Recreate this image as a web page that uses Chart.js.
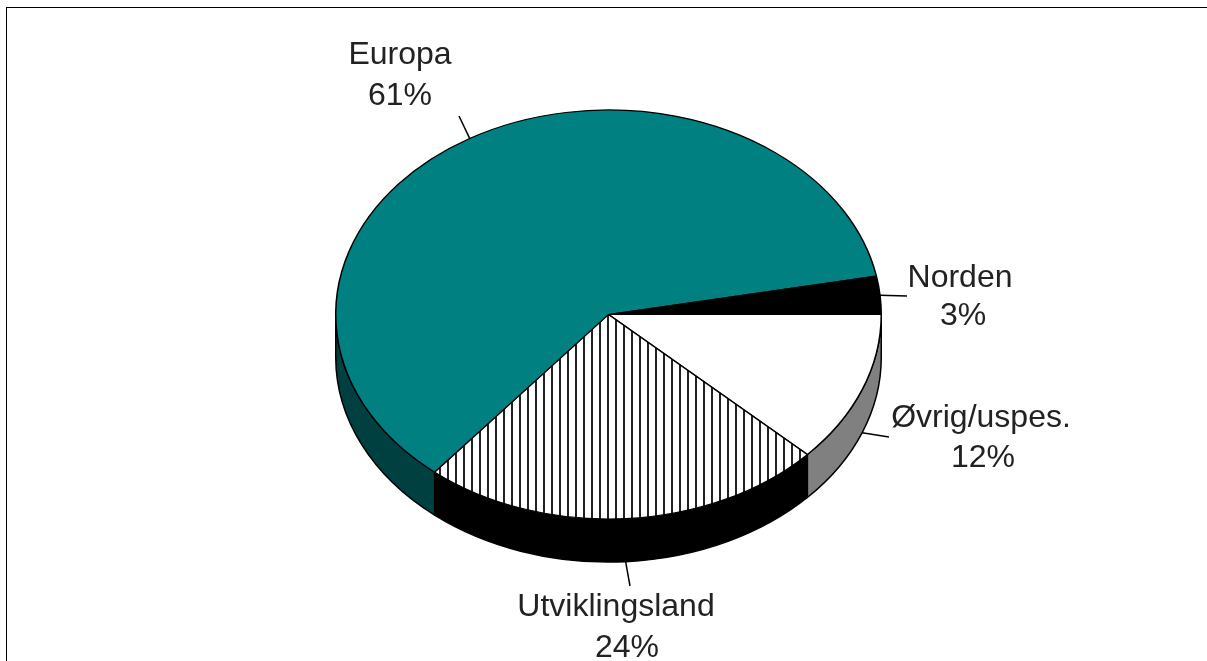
<!DOCTYPE html>
<html>
<head>
<meta charset="utf-8">
<script src="https://cdn.jsdelivr.net/npm/chart.js@4"></script>
<style>
  html, body { margin: 0; padding: 0; background: #fff; overflow: hidden; }
  #frame { position: absolute; left: 6px; top: 7px; width: 1201px; height: 654px; border-left: 1px solid #000; border-top: 1px solid #000; box-sizing: border-box; }
  canvas { position: absolute; left: 0; top: 0; }
</style>
</head>
<body>
<div id="frame"></div>
<canvas id="pieChart" width="1207" height="661"></canvas>
<script>
// clockwise from the east edge of the pie
const categories = ['Øvrig/uspes.', 'Utviklingsland', 'Europa', 'Norden'];
const shares = [12, 24, 61, 3];
const wallColors = ['#808080', '#000000', '#004040', '#000000'];

// where the text sits: name x, name baseline, percent x, percent baseline
const labelSpots = [[981, 427, 983, 467], [616, 616, 627, 657], [400, 64, 400, 105], [960, 287, 963, 325]];
// outer end of each leader line
const leaderEnds = [[889, 437], [630, 586], [459, 116], [907, 296]];

const squash = 0.75;
const depth = 43;
const faceY = 314.5;

const makeHatch = () => {
    const c = document.createElement('canvas');
    c.width = 8;
    c.height = 8;
    const g = c.getContext('2d');
    g.fillStyle = '#fff';
    g.fillRect(0, 0, 8, 8);
    g.fillStyle = '#222';
    g.fillRect(0, 0, 1, 8);
    g.fillRect(7, 0, 1, 8);
    return g.createPattern(c, 'repeat');
};

const tilt3d = {
    id: 'tilt3d',
    beforeDatasetsDraw(chart) {
        const ctx = chart.ctx;
        const arcs = chart.getDatasetMeta(0).data;
        // side walls, only the part facing the viewer
        arcs.forEach((arc, i) => {
            const a0 = Math.max(arc.startAngle, 0);
            const a1 = Math.min(arc.endAngle, Math.PI);
            if (a1 <= a0) return;
            const r = arc.outerRadius;
            ctx.beginPath();
            ctx.ellipse(arc.x, faceY, r, r * squash, 0, a0, a1);
            ctx.ellipse(arc.x, faceY + depth, r, r * squash, 0, a1, a0, true);
            ctx.closePath();
            ctx.fillStyle = wallColors[i];
            ctx.fill();
            ctx.strokeStyle = '#000';
            ctx.lineWidth = 1.5;
            ctx.stroke();
        });
        const cy = arcs[0].y;
        ctx.save();
        ctx.translate(0, faceY);
        ctx.scale(1, squash);
        ctx.translate(0, -cy);
    },
    afterDatasetsDraw(chart) {
        const ctx = chart.ctx;
        ctx.restore();
        const arcs = chart.getDatasetMeta(0).data;
        ctx.strokeStyle = '#000';
        ctx.lineWidth = 1.5;
        ctx.fillStyle = '#222';
        ctx.font = '32px "Liberation Sans", Arial, sans-serif';
        ctx.textAlign = 'center';
        ctx.textBaseline = 'alphabetic';
        arcs.forEach((arc, i) => {
            // leader starts on the rim at the middle of the slice
            const mid = (arc.startAngle + arc.endAngle) / 2;
            const sx = arc.x + Math.cos(mid) * arc.outerRadius;
            let sy = faceY + Math.sin(mid) * arc.outerRadius * squash;
            if (Math.sin(mid) > 0) sy += depth;
            ctx.beginPath();
            ctx.moveTo(sx, sy);
            ctx.lineTo(leaderEnds[i][0], leaderEnds[i][1]);
            ctx.stroke();
            const spot = labelSpots[i];
            ctx.fillText(categories[i], spot[0], spot[1]);
            ctx.fillText(shares[i] + '%', spot[2], spot[3]);
        });
    }
};

new Chart(document.getElementById('pieChart'), {
    type: 'pie',
    data: {
        labels: categories,
        datasets: [{
            data: shares,
            backgroundColor: ['#ffffff', makeHatch(), '#008080', '#000000'],
            borderColor: '#000',
            borderWidth: 1.5,
            clip: false
        }]
    },
    options: {
        responsive: false,
        animation: false,
        rotation: 90,
        layout: { padding: { left: 335, right: 325, top: 56, bottom: 57 } },
        plugins: { legend: { display: false }, tooltip: { enabled: false } }
    },
    plugins: [tilt3d]
});
</script>
</body>
</html>
